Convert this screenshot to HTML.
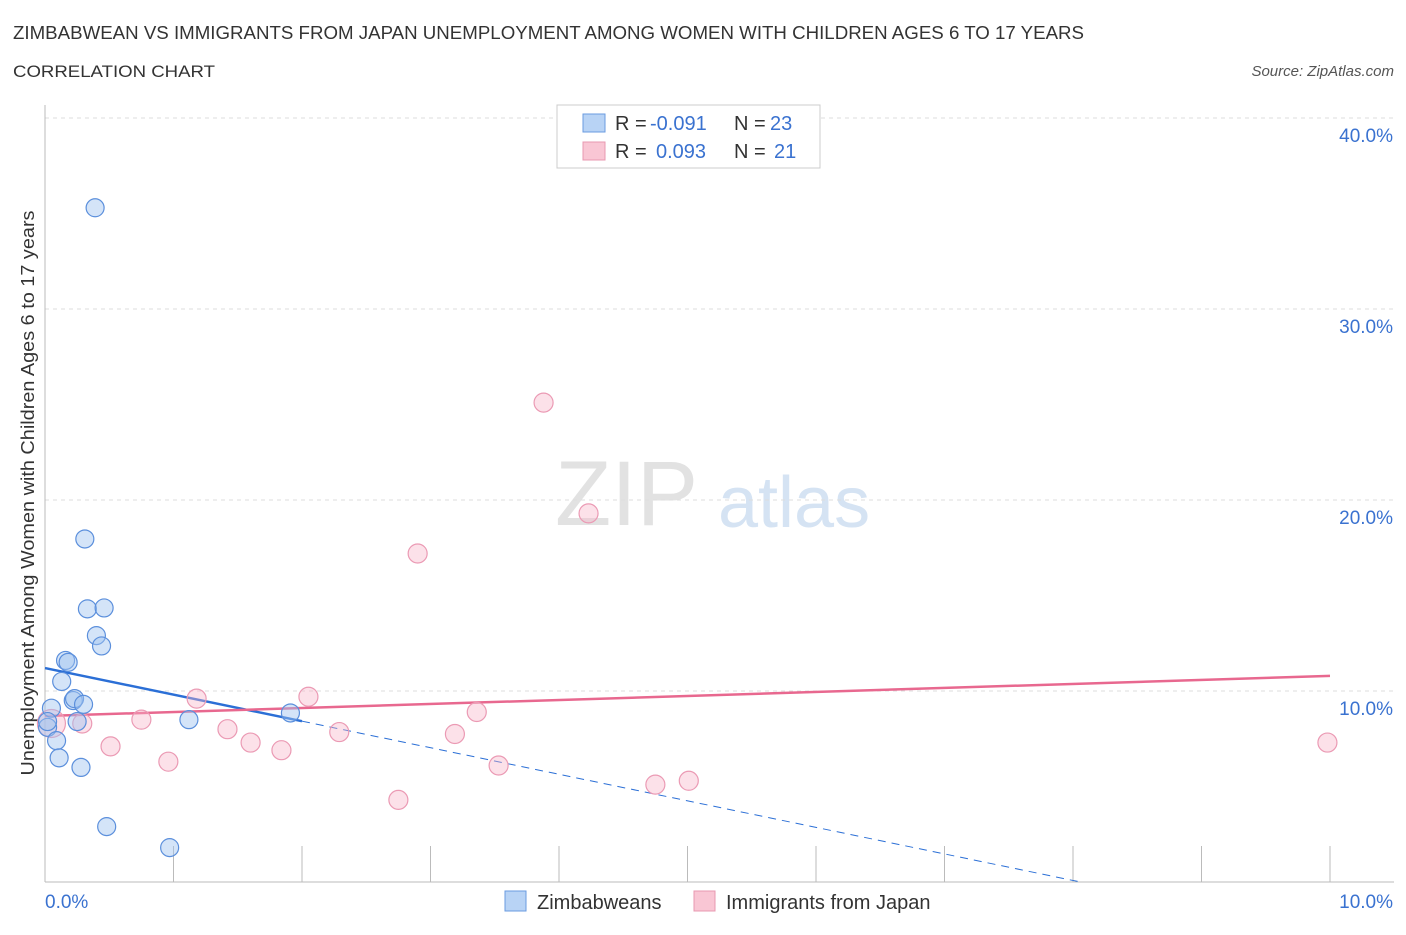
<!DOCTYPE html>
<html><head><meta charset="utf-8"><style>
body{margin:0;background:#fff;font-family:"Liberation Sans",sans-serif;}
svg text{font-family:"Liberation Sans",sans-serif;}
</style></head><body>
<svg id="chart" width="1406" height="930" xmlns="http://www.w3.org/2000/svg">
<text x="13" y="39" font-size="18" fill="#333" textLength="1071" lengthAdjust="spacingAndGlyphs">ZIMBABWEAN VS IMMIGRANTS FROM JAPAN UNEMPLOYMENT AMONG WOMEN WITH CHILDREN AGES 6 TO 17 YEARS</text>
<text x="13" y="77" font-size="17" fill="#333" textLength="202" lengthAdjust="spacingAndGlyphs">CORRELATION CHART</text>
<text x="1394" y="76" font-size="15" fill="#555" font-style="italic" text-anchor="end">Source: ZipAtlas.com</text>
<text transform="translate(34,493) rotate(-90)" font-size="18" fill="#333" text-anchor="middle" textLength="565" lengthAdjust="spacingAndGlyphs">Unemployment Among Women with Children Ages 6 to 17 years</text>
<g><text x="555" y="525" font-size="92" fill="#e2e2e2" font-family="Liberation Serif">ZIP</text><text x="718" y="527" font-size="72" fill="#d5e3f3">atlas</text></g>
<g id="grid"></g><g id="axes"></g><g id="lines"></g><g id="pts"></g>
<g>
<rect x="557" y="105" width="263" height="63" fill="#fff" stroke="#ccc"/>
<rect x="583" y="114" width="22" height="18" fill="#b8d3f5" stroke="#6a9be0"/>
<rect x="583" y="142" width="22" height="18" fill="#f9c6d4" stroke="#e898b0"/>
<text x="615" y="130" font-size="20" fill="#333">R =</text><text x="650" y="130" font-size="20" fill="#3a72d0">-0.091</text>
<text x="734" y="130" font-size="20" fill="#333">N =</text><text x="770" y="130" font-size="20" fill="#3a72d0">23</text>
<text x="615" y="158" font-size="20" fill="#333">R =</text><text x="656" y="158" font-size="20" fill="#3a72d0">0.093</text>
<text x="734" y="158" font-size="20" fill="#333">N =</text><text x="774" y="158" font-size="20" fill="#3a72d0">21</text>
</g>
<g>
<rect x="505" y="891" width="21" height="20" fill="#b8d3f5" stroke="#6a9be0"/>
<text x="537" y="909" font-size="20" fill="#333">Zimbabweans</text>
<rect x="694" y="891" width="21" height="20" fill="#f9c6d4" stroke="#e898b0"/>
<text x="726" y="909" font-size="20" fill="#333">Immigrants from Japan</text>
</g>
</svg>
<script>
const yTicks=[10,20,30,40];
const yTickLabels=["10.0%","20.0%","30.0%","40.0%"];
const xTickLabels=["0.0%","10.0%"];
const blueX=[0.39,0.31,0.33,0.46,0.40,0.44,0.16,0.18,0.13,0.22,0.23,0.30,0.05,0.25,1.12,1.91,0.02,0.09,0.11,0.28,0.48,0.97,0.02];
const blueY=[35.3,17.96,14.3,14.35,12.9,12.36,11.6,11.5,10.5,9.5,9.6,9.3,9.1,8.4,8.5,8.85,8.1,7.4,6.5,6.0,2.9,1.8,8.4];
const pinkX=[3.88,4.23,2.90,2.05,1.18,3.36,0.75,0.29,1.42,2.29,3.19,1.60,0.51,1.84,0.96,3.53,5.01,4.75,2.75,9.98,0.05];
const pinkY=[25.1,19.3,17.2,9.7,9.6,8.9,8.5,8.3,8.0,7.85,7.75,7.3,7.1,6.9,6.3,6.1,5.3,5.1,4.3,7.3,8.3];
const blueTrend=[11.2,-1.39];
const pinkTrend=[8.69,0.21];
const X=v=>45+v*128.5, Y=v=>882-v*19.1;
const NS="http://www.w3.org/2000/svg";
function mk(p,t,a){const e=document.createElementNS(NS,t);for(const k in a)e.setAttribute(k,a[k]);p.appendChild(e);return e;}
const grid=document.getElementById('grid'),axes=document.getElementById('axes'),lines=document.getElementById('lines'),pts=document.getElementById('pts');
yTicks.forEach((t,i)=>{const l=mk(grid,'line',{x1:45,x2:1394,y1:Y(t),y2:Y(t),stroke:'#ddd','stroke-dasharray':'4,4'});


const tx=mk(axes,'text',{x:1393,y:Y(t)+24,'font-size':19,fill:'#3a72d0','text-anchor':'end'});tx.textContent=yTickLabels[i];

});
mk(axes,'line',{x1:45,x2:45,y1:105,y2:882,stroke:'#bbb'});
mk(axes,'line',{x1:45,x2:1394,y1:882,y2:882,stroke:'#bbb'});
for(let i=1;i<=10;i++)mk(axes,'line',{x1:X(i),x2:X(i),y1:846,y2:882,stroke:'#bbb'});
const xl0=mk(axes,'text',{x:45,y:908,'font-size':19,fill:'#3a72d0'});xl0.textContent=xTickLabels[0];


const xl1=mk(axes,'text',{x:1393,y:908,'font-size':19,fill:'#3a72d0','text-anchor':'end'});xl1.textContent=xTickLabels[1];


const bz=-blueTrend[0]/blueTrend[1];
const bs=mk(lines,'line',{x1:X(0),y1:Y(blueTrend[0]),x2:X(2),y2:Y(blueTrend[0]+2*blueTrend[1]),stroke:'#2b6fd6','stroke-width':2.5});


const bd=mk(lines,'line',{x1:X(2),y1:Y(blueTrend[0]+2*blueTrend[1]),x2:X(bz),y2:Y(0),stroke:'#2b6fd6','stroke-width':1,'stroke-dasharray':'8,6'});


const pl=mk(lines,'line',{x1:X(0),y1:Y(pinkTrend[0]),x2:X(10),y2:Y(pinkTrend[0]+10*pinkTrend[1]),stroke:'#e8688f','stroke-width':2.5});


pinkX.forEach((x,i)=>{const c=mk(pts,'circle',{cx:X(x),cy:Y(pinkY[i]),r:i==20?14:9.5,fill:'rgba(248,180,200,0.4)',stroke:'#eb9ab4','stroke-width':1.2});

});
blueX.forEach((x,i)=>{const c=mk(pts,'circle',{cx:X(x),cy:Y(blueY[i]),r:9,fill:'rgba(160,195,240,0.45)',stroke:'#5b8fdc','stroke-width':1.2});

});
</script>
</body></html>
